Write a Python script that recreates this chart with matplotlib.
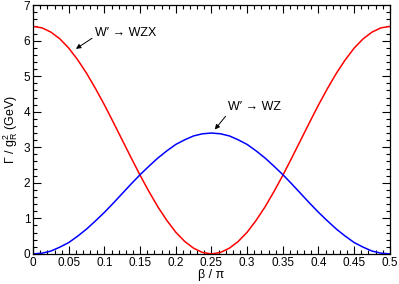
import matplotlib
matplotlib.use("Agg")
import matplotlib.pyplot as plt
from matplotlib.ticker import MultipleLocator

plt.rcParams['font.family'] = ['Liberation Sans', 'DejaVu Sans']
plt.rcParams['mathtext.fontset'] = 'custom'
plt.rcParams['mathtext.rm'] = 'Liberation Sans'
plt.rcParams['mathtext.it'] = 'Liberation Sans'

beta = [0.0, 0.0125, 0.025, 0.0375, 0.05, 0.0625, 0.075, 0.0875, 0.1, 0.1125,
        0.125, 0.1375, 0.15, 0.1625, 0.175, 0.1875, 0.2, 0.2125, 0.225, 0.2375,
        0.25, 0.2625, 0.275, 0.2875, 0.3, 0.3125, 0.325, 0.3375, 0.35, 0.3625,
        0.375, 0.3875, 0.4, 0.4125, 0.425, 0.4375, 0.45, 0.4625, 0.475, 0.4875, 0.5]
gamma_wzx = [6.40, 6.36, 6.24, 6.05, 5.79, 5.46, 5.08, 4.65, 4.19, 3.70,
             3.20, 2.70, 2.21, 1.75, 1.32, 0.94, 0.61, 0.35, 0.16, 0.04,
             0.00, 0.04, 0.16, 0.35, 0.61, 0.94, 1.32, 1.75, 2.21, 2.70,
             3.20, 3.70, 4.19, 4.65, 5.08, 5.46, 5.79, 6.05, 6.24, 6.36, 6.40]
gamma_wz = [0.00, 0.02, 0.08, 0.19, 0.32, 0.50, 0.70, 0.93, 1.17, 1.43,
            1.70, 1.97, 2.23, 2.47, 2.70, 2.90, 3.08, 3.21, 3.32, 3.38,
            3.40, 3.38, 3.32, 3.21, 3.08, 2.90, 2.70, 2.47, 2.23, 1.97,
            1.70, 1.43, 1.17, 0.93, 0.70, 0.50, 0.32, 0.19, 0.08, 0.02, 0.00]
xticks = [0, 0.05, 0.1, 0.15, 0.2, 0.25, 0.3, 0.35, 0.4, 0.45, 0.5]
xticklabels = ['0', '0.05', '0.1', '0.15', '0.2', '0.25', '0.3', '0.35', '0.4', '0.45', '0.5']

fig = plt.figure(figsize=(3.99, 2.84), dpi=100)
ax = fig.add_axes([0.083, 0.106, 0.894, 0.876])
ax.plot(beta, gamma_wzx, color='#ff0000', lw=1.1)
ax.plot(beta, gamma_wz, color='#0000ff', lw=1.1)
ax.set_xlim(0, 0.5)
ax.set_ylim(0, 7)
ax.set_xticks(xticks)
ax.set_xticklabels(xticklabels)
ax.xaxis.set_minor_locator(MultipleLocator(0.01))
ax.yaxis.set_major_locator(MultipleLocator(1))
ax.yaxis.set_minor_locator(MultipleLocator(0.2))
ax.tick_params(which='both', direction='in', top=True, right=True, labelsize=8.5, width=0.8)
ax.tick_params(axis='x', which='major', pad=2)
ax.tick_params(axis='y', which='major', pad=2)
ax.tick_params(which='major', length=6)
ax.tick_params(which='minor', length=3)
for s in ax.spines.values():
    s.set_linewidth(0.9)

ax.set_xlabel(r'β / π', fontsize=9, labelpad=0)
ax.set_ylabel(r'Γ / g$_{\mathrm{R}}^{2}$ (GeV)', fontsize=9, labelpad=3)

ax.annotate('W′ → WZX', xy=(0.060, 5.77), xytext=(0.0865, 6.22), fontsize=9,
            va='center', ha='left',
            arrowprops=dict(arrowstyle='-|>', color='black', lw=0.7, mutation_scale=7,
                            shrinkA=0, shrinkB=0, relpos=(0, 0.2)))
ax.annotate('W′ → WZ', xy=(0.2547, 3.50), xytext=(0.273, 4.12), fontsize=9,
            va='center', ha='left',
            arrowprops=dict(arrowstyle='-|>', color='black', lw=0.7, mutation_scale=7,
                            shrinkA=0, shrinkB=0, relpos=(0, 0.0)))

fig.savefig('out.png', dpi=100)
